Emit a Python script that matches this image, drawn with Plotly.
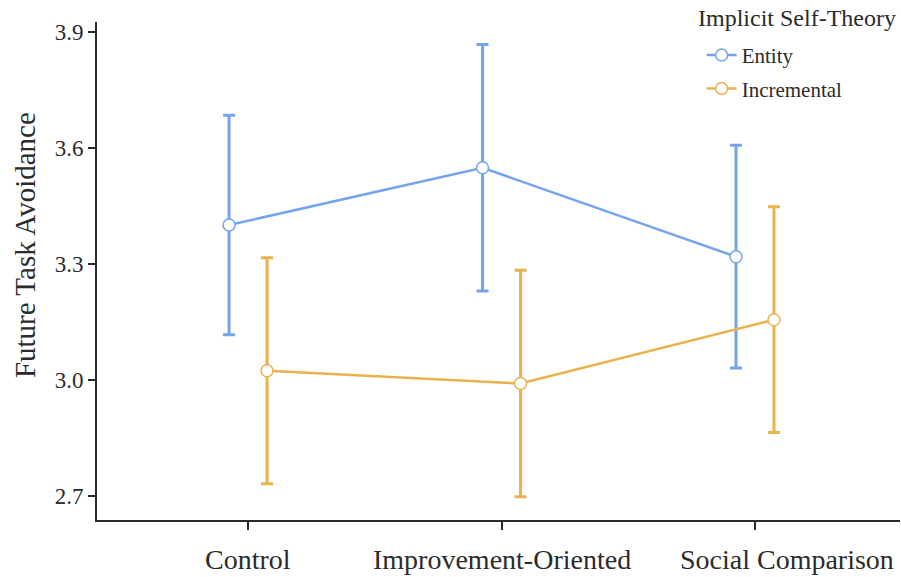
import plotly.graph_objects as go

# Condition labels on the x axis
conditions = ["Control", "Improvement-Oriented", "Social Comparison"]

# Mean future task avoidance and error-bar half-widths per self-theory group
entity_means = [3.400, 3.548, 3.318]
entity_err = [0.284, 0.319, 0.288]
incremental_means = [3.023, 2.990, 3.155]
incremental_err = [0.292, 0.293, 0.292]

y_ticks = [2.7, 3.0, 3.3, 3.6, 3.9]

BLUE = "#76a4ea"
ORANGE = "#eab24c"
INK = "#2b2b2b"
FONT = "Liberation Serif"

dodge = 0.075
base = list(range(len(conditions)))

fig = go.Figure()

for name, means, errs, color, shift in [
    ("Entity", entity_means, entity_err, BLUE, -dodge),
    ("Incremental", incremental_means, incremental_err, ORANGE, dodge),
]:
    fig.add_trace(go.Scatter(
        x=[b + shift for b in base],
        y=means,
        name=name,
        legendgroup=name,
        mode="lines+markers",
        line=dict(color=color, width=2.5),
        marker=dict(size=12, color="white", line=dict(color=color, width=1.5)),
        error_y=dict(type="data", array=errs, visible=True,
                     color=color, thickness=3, width=6),
    ))

# Category labels under the axis; the last one is kept inside the figure edge
label_notes = []
for i, lab in enumerate(conditions):
    last = i == len(conditions) - 1
    label_notes.append(dict(
        text=lab,
        xref="paper" if last else "x", yref="paper",
        x=1 if last else base[i], y=-0.0803,
        xanchor="right" if last else "center", yanchor="middle",
        xshift=-4 if last else 0,
        showarrow=False,
        font=dict(size=28, family=FONT, color=INK),
    ))

fig.update_layout(
    width=901, height=577,
    margin=dict(l=97, r=1, t=22, b=57),
    paper_bgcolor="white",
    plot_bgcolor="white",
    font=dict(family=FONT, color=INK),
    showlegend=True,
    legend=dict(
        font=dict(size=21, family=FONT, color=INK),
        x=0.753, xanchor="left",
        y=0.974, yanchor="top",
        bgcolor="rgba(0,0,0,0)",
        tracegroupgap=3,
    ),
    xaxis=dict(
        range=[-0.596, 2.572],
        tickmode="array",
        tickvals=base,
        showticklabels=False,
        showgrid=False, zeroline=False,
        showline=True, linecolor=INK, linewidth=2,
        ticks="outside", ticklen=8, tickwidth=2, tickcolor=INK,
    ),
    yaxis=dict(
        range=[2.637, 3.925],
        tickmode="array",
        tickvals=y_ticks,
        ticktext=[f"{v:.1f}" for v in y_ticks],
        showgrid=False, zeroline=False,
        showline=True, linecolor=INK, linewidth=2,
        ticks="outside", ticklen=7, tickwidth=2, tickcolor=INK,
        tickfont=dict(size=23, family=FONT, color=INK),
    ),
    annotations=[
        dict(
            text="Future Task Avoidance",
            xref="paper", yref="paper",
            x=-0.0897, y=0.552,
            xanchor="center", yanchor="middle",
            textangle=-90, showarrow=False,
            font=dict(size=29, family=FONT, color=INK),
        ),
        dict(
            text="Implicit Self-Theory",
            xref="paper", yref="paper",
            x=1, y=(520 - 18) / 498,
            xanchor="right", yanchor="middle",
            xshift=-2,
            showarrow=False,
            font=dict(size=24, family=FONT, color=INK),
        ),
    ] + label_notes,
)

fig.write_html("out.html")
